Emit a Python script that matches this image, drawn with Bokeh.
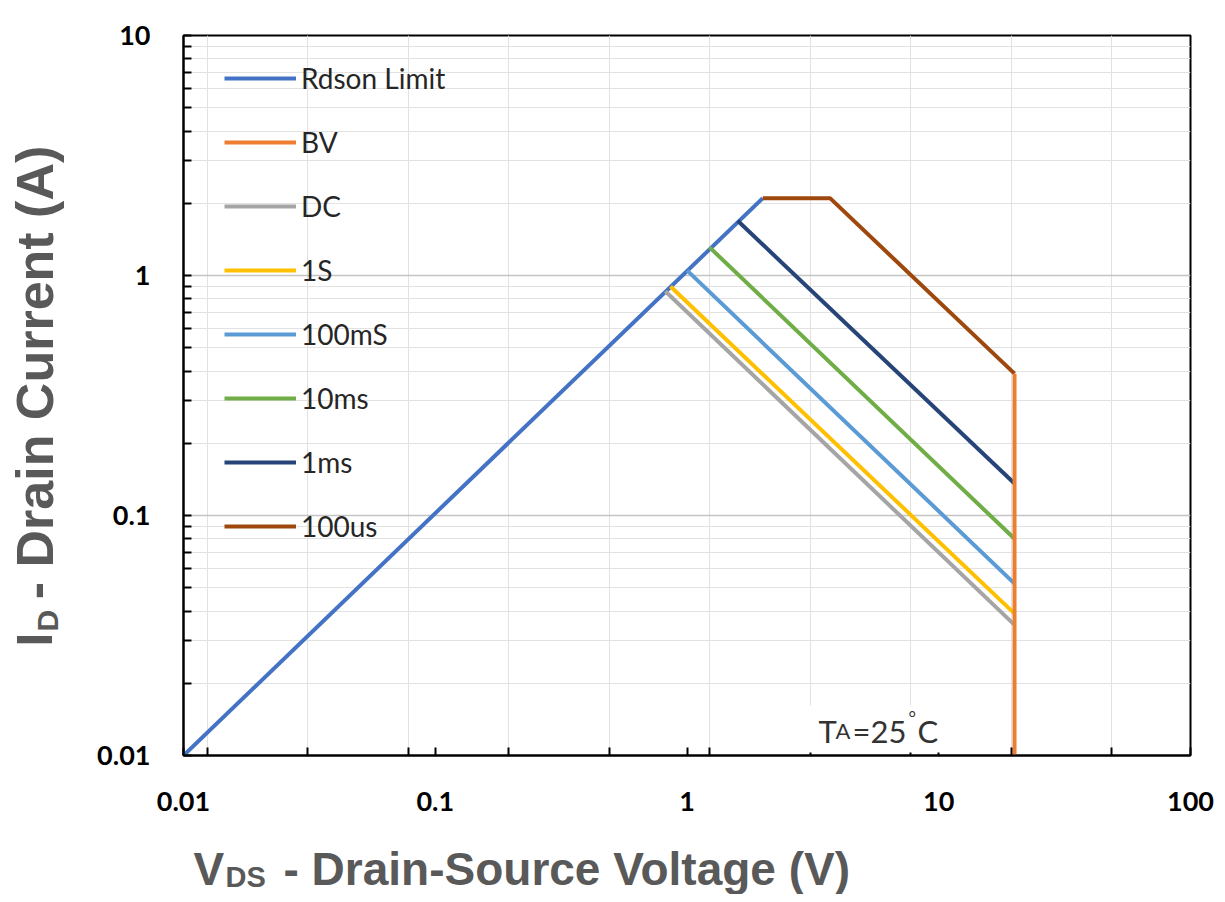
import math
from bokeh.plotting import figure
from bokeh.models import FixedTicker, Label, Legend, LegendItem, Range1d, BoxAnnotation
from bokeh.layouts import column, row
from bokeh.embed import file_html
from bokeh.resources import INLINE

# ---------------- data ----------------
series_names = ["Rdson Limit", "BV", "DC", "1S", "100mS", "10ms", "1ms", "100us"]
series_colors = ["#4472C4", "#ED7D31", "#A5A5A5", "#FFC000", "#5B9BD5", "#70AD47", "#264478", "#9E480E"]

rdson_v = [0.01, 2.0]
rdson_i = [0.01, 2.1]

bv_v = [20, 20]
bv_i = [0.009, 0.39]

dc_v = [0.82, 20]
dc_i = [0.86, 0.035]

s1_v = [0.86, 20]
s1_i = [0.90, 0.039]

ms100_v = [1.0, 20]
ms100_i = [1.05, 0.052]

ms10_v = [1.23, 20]
ms10_i = [1.31, 0.080]

ms1_v = [1.59, 20]
ms1_i = [1.69, 0.136]

us100_v = [2.0, 3.7, 20]
us100_i = [2.1, 2.1, 0.39]

x_major_ticks = [0.01, 0.1, 1, 10, 100]
x_tick_labels = ["0.01", "0.1", "1", "10", "100"]
# vertical grid lines / minor ticks of the reference sit at these voltages
x_grid_ticks = [0.01245, 0.0312, 0.0782, 0.196, 0.492, 1.233, 3.09, 7.75, 19.44, 48.7]

y_major_ticks = [0.01, 0.1, 1, 10]
y_tick_labels = ["0.01", "0.1", "1", "10"]
y_minor_ticks = [m * d for d in [0.01, 0.1, 1] for m in range(2, 10)]

TITLE_FONT = "Liberation Sans"
TITLE_COL = "#595959"

# ---------------- main figure ----------------
p = figure(width=1137, height=825, x_axis_type="log", y_axis_type="log",
           x_range=Range1d(0.01, 100), y_range=Range1d(0.01, 10),
           output_backend="svg", toolbar_location=None,
           min_border_left=103, min_border_right=27, min_border_top=35, min_border_bottom=70)
p.background_fill_color = "white"
p.border_fill_color = "white"
p.outline_line_color = "black"
p.outline_line_width = 2

# axes
p.xaxis.ticker = FixedTicker(ticks=x_major_ticks, minor_ticks=x_grid_ticks)
p.yaxis.ticker = FixedTicker(ticks=y_major_ticks, minor_ticks=y_minor_ticks)
p.xaxis.major_label_overrides = {t: l for t, l in zip(x_major_ticks, x_tick_labels)}
p.yaxis.major_label_overrides = {t: l for t, l in zip(y_major_ticks, y_tick_labels)}
for ax in (p.xaxis[0], p.yaxis[0]):
    ax.axis_line_color = "black"
    ax.axis_line_width = 2
    ax.major_tick_in = 8
    ax.major_tick_out = 0
    ax.minor_tick_in = 8
    ax.minor_tick_out = 0
    ax.major_tick_line_color = "black"
    ax.major_tick_line_width = 2
    ax.minor_tick_line_color = "black"
    ax.minor_tick_line_width = 2
    ax.major_label_text_font = "Lato"
    ax.major_label_text_font_style = "bold"
    ax.major_label_text_font_size = "27px"
    ax.major_label_text_color = "black"
p.xaxis.major_label_standoff = 36
p.yaxis.major_label_standoff = 33

# grids
p.xgrid.ticker = FixedTicker(ticks=x_grid_ticks)
p.xgrid.grid_line_color = "#e2e2e2"
p.xgrid.grid_line_width = 1
p.ygrid.ticker = FixedTicker(ticks=y_major_ticks, minor_ticks=y_minor_ticks)
p.ygrid.grid_line_color = "#c4c4c4"
p.ygrid.grid_line_width = 1.5
p.ygrid.minor_grid_line_color = "#e2e2e2"
p.ygrid.minor_grid_line_width = 1

# lines
xs = [rdson_v, bv_v, dc_v, s1_v, ms100_v, ms10_v, ms1_v, us100_v]
ys = [rdson_i, bv_i, dc_i, s1_i, ms100_i, ms10_i, ms1_i, us100_i]
renderers = {}
draw_order = [0, 2, 3, 4, 5, 6, 7, 1]
for k in draw_order:
    renderers[k] = p.line(xs[k], ys[k], line_color=series_colors[k], line_width=4)

legend = Legend(items=[LegendItem(label=series_names[k], renderers=[renderers[k]]) for k in range(len(series_names))],
                location=(41, 212))
legend.margin = 0
legend.padding = 0
legend.spacing = 30
legend.glyph_width = 72
legend.glyph_height = 14
legend.label_height = 14
legend.label_standoff = 5
legend.label_text_font = "Lato"
legend.label_text_font_size = "28px"
legend.label_text_color = "#262626"
legend.background_fill_alpha = 0
legend.border_line_color = None
p.add_layout(legend)

# T_A = 25 C annotation
p.add_layout(BoxAnnotation(left=623, right=757, bottom=3, top=50,
                           left_units="screen", right_units="screen", bottom_units="screen", top_units="screen",
                           fill_color="white", fill_alpha=1, line_color=None))
ta_font = "Lato"
ta_col = "#333333"
for txt, xx, yy, fs in [("T", 635, 25, "31px"), ("A", 652, 25, "22px"), ("=25", 669, 25, "31px"),
                        ("°", 725, 39, "18px"), ("C", 734, 25, "31px")]:
    p.add_layout(Label(x=xx, y=yy, x_units="screen", y_units="screen", text=txt,
                       text_font=ta_font, text_font_size=fs, text_color=ta_col,
                       text_baseline="alphabetic", text_align="left"))

# ---------------- y-axis title panel ----------------
left_fig = figure(width=80, height=825, x_range=Range1d(0, 80), y_range=Range1d(0, 825),
                  output_backend="svg", toolbar_location=None,
                  x_axis_location=None, y_axis_location=None, min_border=0)
left_fig.grid.visible = False
left_fig.outline_line_color = None
for txt, xx, yy, fs in [("I", 34, 125, "50px"), ("D", 47, 142, "30px"), ("- Drain Current (A)", 34, 179, "52px")]:
    left_fig.add_layout(Label(x=xx, y=yy, text=txt, angle=math.pi / 2,
                              text_font=TITLE_FONT, text_font_style="bold", text_font_size=fs,
                              text_color=TITLE_COL, text_baseline="alphabetic", text_align="left"))

# ---------------- x-axis title panel ----------------
bottom_fig = figure(width=1217, height=69, x_range=Range1d(0, 1217), y_range=Range1d(0, 69),
                    output_backend="svg", toolbar_location=None,
                    x_axis_location=None, y_axis_location=None, min_border=0)
bottom_fig.grid.visible = False
bottom_fig.outline_line_color = None
for txt, xx, yy, fs in [("V", 193, 26, "46px"), ("DS", 225, 18, "29px"), ("- Drain-Source Voltage (V)", 283, 26, "46px")]:
    bottom_fig.add_layout(Label(x=xx, y=yy, text=txt,
                                text_font=TITLE_FONT, text_font_style="bold", text_font_size=fs,
                                text_color=TITLE_COL, text_baseline="alphabetic", text_align="left"))

layout = column(row(left_fig, p, spacing=0), bottom_fig, spacing=0)
open("out.html", "w").write(file_html(layout, INLINE))
